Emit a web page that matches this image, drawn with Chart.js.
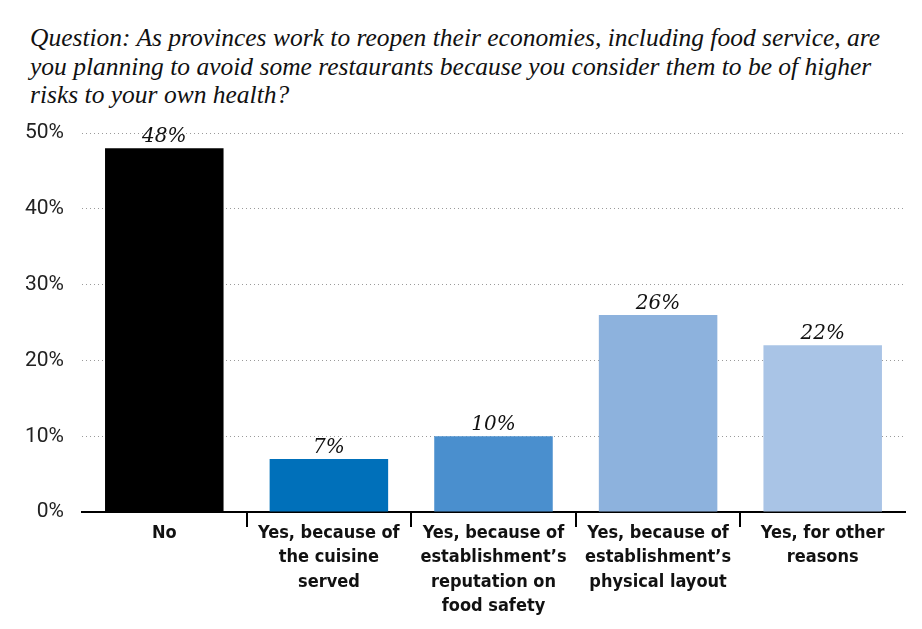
<!DOCTYPE html>
<html>
<head>
<meta charset="utf-8">
<script src="https://cdn.jsdelivr.net/npm/chart.js@4/dist/chart.umd.min.js"></script>
<style>
  html, body { margin: 0; padding: 0; background: #fff; overflow: hidden; }
  #wrap { position: relative; width: 922px; height: 629px; overflow: hidden; }
  #question {
    position: absolute; left: 30px; top: 24px;
    font-family: "Liberation Serif", serif; font-style: italic;
    font-size: 25.5px; line-height: 28.5px; color: #111; white-space: nowrap;
  }
  canvas { position: absolute; left: 0; top: 0; }
</style>
</head>
<body>
<div id="wrap">
  <div id="question">Question: As provinces work to reopen their economies, including food service, are<br>you planning to avoid some restaurants because you consider them to be of higher<br>risks to your own health?</div>
  <canvas id="surveyChart" width="922" height="629"></canvas>
</div>
<script>
// Survey answers
const categories = [
    ['No'],
    ['Yes, because of', 'the cuisine', 'served'],
    ['Yes, because of', 'establishment\u2019s', 'reputation on', 'food safety'],
    ['Yes, because of', 'establishment\u2019s', 'physical layout'],
    ['Yes, for other', 'reasons']
];
const shares = [48, 7, 10, 26, 22];
const barColors = ['#000000', '#0070ba', '#4a8fce', '#8db2dd', '#a9c4e6'];
const yTicks = [0, 10, 20, 30, 40, 50];

// value labels above bars
const valueLabels = {
    id: 'valueLabels',
    afterDatasetsDraw(chart) {
        const ctx = chart.ctx;
        const meta = chart.getDatasetMeta(0);
        ctx.save();
        ctx.font = 'italic 20px "DejaVu Serif", serif';
        ctx.fillStyle = '#111';
        ctx.textAlign = 'center';
        ctx.textBaseline = 'alphabetic';
        meta.data.forEach((bar, i) => {
            ctx.fillText(shares[i] + '%', bar.x, bar.y - 6);
        });
        ctx.restore();
    }
};

const ctx = document.getElementById('surveyChart').getContext('2d');
new Chart(ctx, {
    type: 'bar',
    data: {
        labels: categories,
        datasets: [{
            data: shares,
            backgroundColor: barColors,
            barPercentage: 0.72,
            categoryPercentage: 1.0
        }]
    },
    options: {
        responsive: false,
        animation: false,
        layout: { padding: { top: 133, right: 17, left: 7, bottom: 1 } },
        plugins: {
            legend: { display: false },
            tooltip: { enabled: false }
        },
        scales: {
            x: {
                // labels get clipped to the scale box, so give it some room
                afterFit: (scale) => { scale.height += 15; },
                border: { display: true, color: '#000', width: 2 },
                grid: {
                    offset: true,
                    drawOnChartArea: false,
                    tickLength: 15,
                    lineWidth: 2,
                    // no tick at the two outer edges
                    color: (c) => (c.index === undefined || c.index === 0) ? 'rgba(0,0,0,0)' : '#000'
                },
                ticks: {
                    padding: -6,
                    color: '#111',
                    maxRotation: 0,
                    autoSkip: false,
                    font: { family: '"DejaVu Sans", sans-serif', weight: 'condensed bold', size: 18, lineHeight: 1.36 }
                }
            },
            y: {
                min: 0,
                max: 50,
                afterBuildTicks: (axis) => { axis.ticks = yTicks.map(v => ({ value: v })); },
                border: { display: false, dash: [1, 3] },
                grid: {
                    drawTicks: false,
                    color: (c) => c.index === 0 ? 'rgba(0,0,0,0)' : '#9a9a9a',
                    lineWidth: 1
                },
                ticks: {
                    padding: 18,
                    color: '#222',
                    font: { family: 'Roboto, sans-serif', size: 21 },
                    callback: (v) => v + '%'
                }
            }
        }
    },
    plugins: [valueLabels]
});
</script>
</body>
</html>
